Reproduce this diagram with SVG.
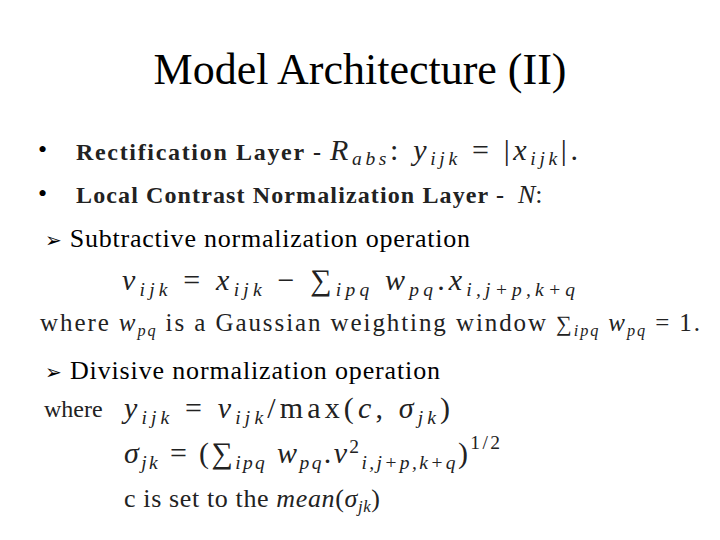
<svg xmlns="http://www.w3.org/2000/svg" width="720" height="540" viewBox="0 0 720 540">
<style>
.t{font-family:"Liberation Serif",serif;fill:#000}
.m{font-family:"Liberation Serif",serif;font-style:italic;fill:#222}
.r{font-family:"Liberation Serif",serif;fill:#222}
.b{font-family:"Liberation Serif",serif;font-weight:bold;fill:#222}
.s{font-size:65%}
</style>
<rect width="720" height="540" fill="#fff"/>
<text class="t" x="360" y="84" font-size="44" text-anchor="middle">Model Architecture (II)</text>
<g id="bullet1">
<text class="t" x="38" y="158" font-size="26">•</text>
<text class="b" x="76" y="160" font-size="24" textLength="245" lengthAdjust="spacing">Rectification Layer -</text>
<text class="m" x="330" y="160" font-size="30" textLength="248" lengthAdjust="spacing">R<tspan class="s" dy="5">abs</tspan><tspan dy="-5" font-style="normal">:</tspan> y<tspan class="s" dy="5">ijk</tspan><tspan dy="-5" font-style="normal"> = |</tspan>x<tspan class="s" dy="5">ijk</tspan><tspan dy="-5" font-style="normal">|.</tspan></text>
</g>
<g id="bullet2">
<text class="t" x="38" y="202" font-size="26">•</text>
<text class="b" x="76" y="203" font-size="24" textLength="428" lengthAdjust="spacing">Local Contrast Normalization Layer -</text>
<text class="m" x="518" y="203" font-size="26">N<tspan font-style="normal">:</tspan></text>
</g>
<g id="sub">
<text class="t" x="45" y="247" font-size="26" textLength="425" lengthAdjust="spacing"><tspan font-family="DejaVu Sans" font-size="20">➢</tspan> Subtractive normalization operation</text>
<text class="m" x="122" y="290" font-size="30" textLength="453" lengthAdjust="spacing">v<tspan class="s" dy="6">ijk</tspan><tspan dy="-6" font-style="normal"> = </tspan>x<tspan class="s" dy="6">ijk</tspan><tspan dy="-6" font-style="normal"> − ∑</tspan><tspan class="s" dy="6">ipq</tspan><tspan dy="-6"> w</tspan><tspan class="s" dy="6">pq</tspan><tspan dy="-6" font-style="normal">.</tspan>x<tspan class="s" dy="6">i,j+p,k+q</tspan></text>
<text class="r" x="40" y="331" font-size="25" fill="#333" textLength="660" lengthAdjust="spacing">where <tspan font-style="italic">w</tspan><tspan class="s" font-style="italic" dy="5">pq</tspan><tspan dy="-5"> is a Gaussian weighting window </tspan><tspan font-size="22">∑</tspan><tspan class="s" font-style="italic" dy="5">ipq</tspan><tspan font-style="italic" dy="-5"> w</tspan><tspan class="s" font-style="italic" dy="5">pq</tspan><tspan dy="-5"> = 1.</tspan></text>
</g>
<g id="div">
<text class="t" x="45" y="379" font-size="26" textLength="395" lengthAdjust="spacing"><tspan font-family="DejaVu Sans" font-size="20">➢</tspan> Divisive normalization operation</text>
<text class="r" x="44" y="417" font-size="24">where</text>
<text class="m" x="124" y="418" font-size="30" textLength="326" lengthAdjust="spacing">y<tspan class="s" dy="6">ijk</tspan><tspan dy="-6" font-style="normal"> = </tspan>v<tspan class="s" dy="6">ijk</tspan><tspan dy="-6" font-style="normal">/max(</tspan>c<tspan font-style="normal">, </tspan>σ<tspan class="s" dy="6">jk</tspan><tspan dy="-6" font-style="normal">)</tspan></text>
<text class="m" x="124" y="463" font-size="30" textLength="376" lengthAdjust="spacing">σ<tspan class="s" dy="6">jk</tspan><tspan dy="-6" font-style="normal"> = (∑</tspan><tspan class="s" dy="6">ipq</tspan><tspan dy="-6"> w</tspan><tspan class="s" dy="6">pq</tspan><tspan dy="-6" font-style="normal">.</tspan>v<tspan class="s" dy="-10" font-style="normal">2</tspan><tspan class="s" dy="16">i,j+p,k+q</tspan><tspan dy="-6" font-style="normal">)</tspan><tspan class="s" dy="-14" font-style="normal">1/2</tspan></text>
<text class="r" x="124" y="507" font-size="26" textLength="256" lengthAdjust="spacing">c is set to the <tspan font-style="italic">mean</tspan>(<tspan font-style="italic">σ</tspan><tspan class="s" font-style="italic" dy="5">jk</tspan><tspan dy="-5">)</tspan></text>
</g>
</svg>
